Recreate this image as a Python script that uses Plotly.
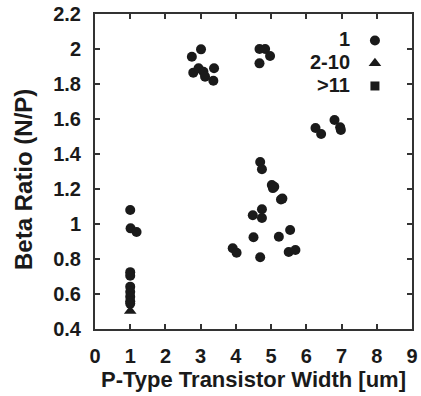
import plotly.graph_objects as go

# Data
circ_x = [1.0, 1.01, 1.18, 1.0, 1.0, 1.0, 1.0, 1.0, 1.0, 1.0,
          2.75, 3.01, 2.79, 2.94, 3.08, 3.125, 3.38, 3.36,
          4.67, 4.83, 4.97, 4.67,
          6.80, 6.26, 6.42, 6.96, 6.98,
          4.69, 4.74, 5.02, 5.09, 5.05, 5.32, 5.28,
          4.48, 4.74, 4.74, 4.50, 5.22, 5.54,
          3.91, 4.02, 4.69, 5.50, 5.69]
circ_y = [1.08, 0.975, 0.954, 0.725, 0.705, 0.642, 0.613, 0.585, 0.558, 0.545,
          1.956, 1.998, 1.865, 1.89, 1.87, 1.842, 1.89, 1.819,
          2.0, 2.0, 1.96, 1.918,
          1.594, 1.549, 1.514, 1.553, 1.537,
          1.354, 1.313, 1.223, 1.213, 1.205, 1.145, 1.14,
          1.05, 1.084, 1.034, 0.924, 0.927, 0.966,
          0.861, 0.836, 0.81, 0.84, 0.851]
tri_x = [1.0]
tri_y = [0.503]
sq_x = [None]
sq_y = [None]

legend_labels = ["1", "2-10", ">11"]
x_ticks = [0, 1, 2, 3, 4, 5, 6, 7, 8, 9]
y_ticks = [0.4, 0.6, 0.8, 1.0, 1.2, 1.4, 1.6, 1.8, 2.0, 2.2]
y_ticktext = ["0.4", "0.6", "0.8", "1", "1.2", "1.4", "1.6", "1.8", "2", "2.2"]
x_title = "P-Type Transistor Width [um]"
y_title = "Beta Ratio (N/P)"

FONT = "Liberation Sans, Arial, Helvetica, sans-serif"
INK = "#1a1a1a"

fig = go.Figure()
fig.add_trace(go.Scatter(x=circ_x, y=circ_y, mode="markers", name=" ",
                         marker=dict(symbol="circle", size=10, color=INK)))
fig.add_trace(go.Scatter(x=tri_x, y=tri_y, mode="markers", name=" ",
                         marker=dict(symbol="triangle-up", size=11, color=INK)))
fig.add_trace(go.Scatter(x=sq_x, y=sq_y, mode="markers", name=" ",
                         marker=dict(symbol="square", size=9, color=INK)))

# legend labels as right-aligned text to the left of symbols
leg_ys = [0.921, 0.849, 0.775]
for lab, ly in zip(legend_labels, leg_ys):
    fig.add_annotation(x=0.81, y=ly, xref="paper", yref="paper",
                       text=lab, showarrow=False, xanchor="right", yanchor="middle",
                       font=dict(family=FONT, size=20, color=INK, weight="bold"))

# y-axis title (as rotated annotation for exact placement)
fig.add_annotation(x=-0.227, y=0.473, xref="paper", yref="paper",
                   text=y_title, showarrow=False, textangle=-90,
                   xanchor="center", yanchor="middle",
                   font=dict(family=FONT, size=24, color=INK, weight="bold"))

axis_common = dict(showgrid=False, zeroline=False, showline=True, linewidth=2,
                   linecolor="#333333", mirror="ticks", ticks="inside", ticklen=5,
                   tickwidth=2, tickcolor="#333333", automargin=False,
                   tickfont=dict(family=FONT, size=20, color=INK, weight="bold"))

fig.update_layout(
    width=421, height=396,
    margin=dict(l=95, r=9, t=14, b=67),
    paper_bgcolor="white", plot_bgcolor="white",
    showlegend=True,
    legend=dict(x=0.82, y=0.968, xanchor="left", yanchor="top",
                bgcolor="rgba(0,0,0,0)", borderwidth=0,
                font=dict(family=FONT, size=15.2, color=INK),
                itemwidth=30, tracegroupgap=0),
    xaxis=dict(range=[0, 9], tickvals=x_ticks, ticklabelstandoff=8,
               title=dict(text=x_title, standoff=4,
                          font=dict(family=FONT, size=22, color=INK, weight="bold")),
               **axis_common),
    yaxis=dict(range=[0.4, 2.2], tickvals=y_ticks, ticktext=y_ticktext,
               ticklabelstandoff=8, **axis_common),
)

fig.write_html("out.html")
